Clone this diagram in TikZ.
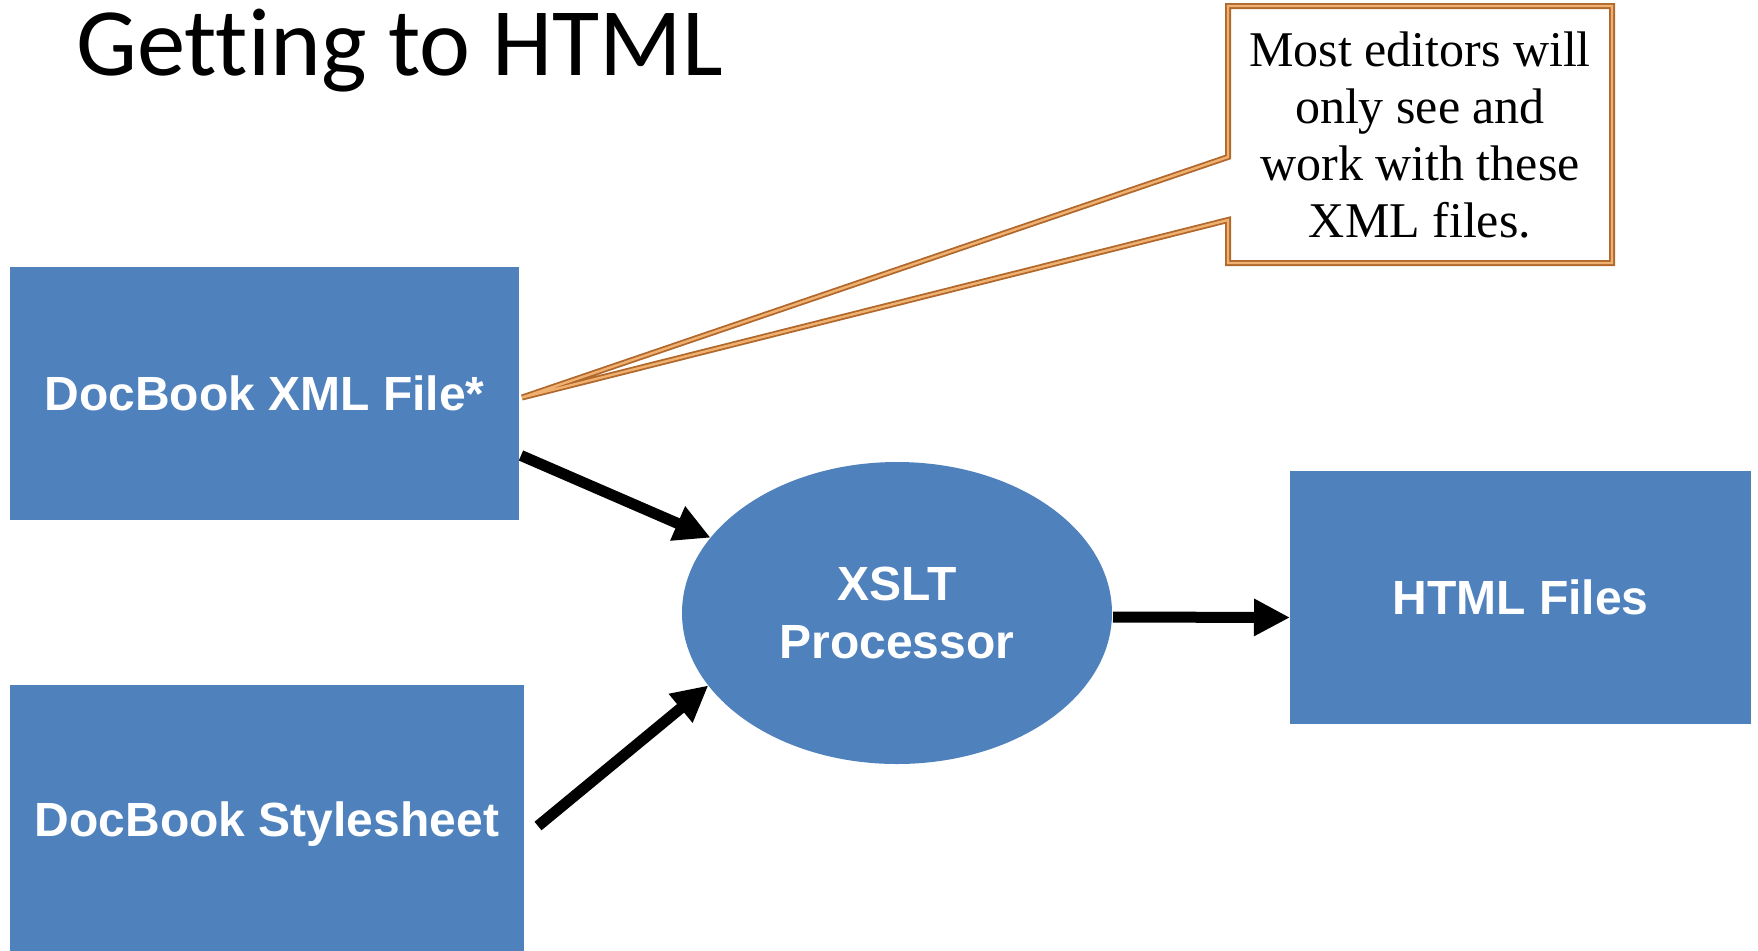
\documentclass[tikz,border=0pt]{standalone}
\usepackage{fontspec}
\setmainfont{Liberation Serif}
\setsansfont{Liberation Sans}
\newfontfamily\titlefont[Ligatures=NoCommon]{Carlito}
\usepackage{tikz}
\usetikzlibrary{arrows.meta, shapes.geometric, calc}

\definecolor{boxblue}{RGB}{79,129,189}
\definecolor{notedark}{RGB}{176,104,44}
\definecolor{notelight}{RGB}{240,176,112}

\begin{document}
\begin{tikzpicture}[x=0.5pt,y=-0.5pt,
        box/.style={fill=boxblue, inner sep=0pt, outer sep=0pt, text=white,
            font=\sffamily\bfseries\fontsize{24pt}{29pt}\selectfont, align=center},
        flow/.style={line width=5.5pt, -{Triangle[length=18pt,width=17.5pt]}},
        callout/.style={draw=notedark, double=notelight, double distance=1.2pt,
            line width=0.9pt, fill=white}]
        \useasboundingbox (0,0) rectangle (1758,950);

        \node[anchor=base west, inner sep=0pt, font=\titlefont\fontsize{48.3pt}{58pt}\selectfont] (title) at (76,75) {Getting to HTML};

        % the three blocks and the processor
        \node[box, minimum width=254.5pt, minimum height=126.5pt] (xml) at (264.5,393.5) {DocBook XML File*};
        \node[box, minimum width=257pt, minimum height=139pt] (style) at (267,824) {DocBook Stylesheet};
        \node[box, minimum width=230.5pt, minimum height=126.5pt] (html) at (1520.5,597.5) {HTML Files};
        \node[box, ellipse, minimum width=215pt, minimum height=151pt] (proc) at (897,613) {XSLT\\Processor};

        % note with its pointer
        \node[minimum width=192pt, minimum height=128.5pt, inner sep=0pt, outer sep=0pt] (note) at (1420,134.5) {};
        \draw[callout] (note.north west) -- (note.north east) -- (note.south east) -- (note.south west)
            -- ($(note.north west)+(0,214)$) -- ($(xml.east)+(3,4)$) -- ($(note.north west)+(0,151)$) -- cycle;
        \node[font=\fontsize{25pt}{28.5pt}\selectfont, align=center] (notetext) at (note.center) {Most editors will\\only see and\\work with these\\XML files.};

        \draw[flow] ($(xml.east)+(2,62)$) -- (proc.158);
        \draw[flow] ($(style.east)+(14,2)$) -- (proc.201);
        \draw[flow] ($(proc.east)+(1,4)$) -- ($(html.west)+(0,20)$);
    \end{tikzpicture}
\end{document}
